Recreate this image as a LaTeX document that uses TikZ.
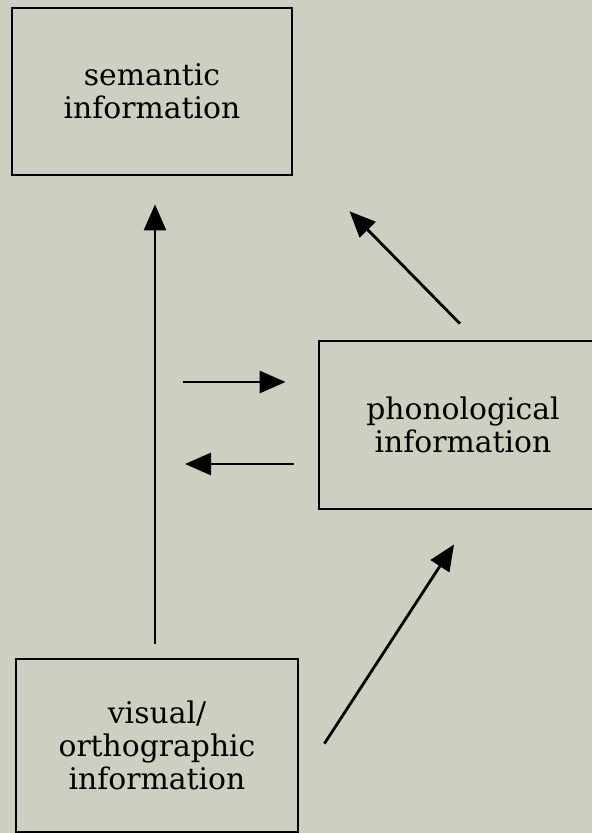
\documentclass[tikz,border=0pt]{standalone}
\usepackage{fontspec}
\setmainfont{DejaVu Serif}
\usetikzlibrary{arrows.meta}
\definecolor{paper}{RGB}{205,207,193}
\begin{document}
\begin{tikzpicture}[x=0.5pt, y=-0.5pt,
    box/.style={draw, line width=1.4pt, align=center, inner sep=0pt,
      font=\fontsize{14.9}{16.5}\selectfont},
    conn/.style={-{Triangle[length=13pt,width=11pt]}, line width=1.4pt}]
  \fill[paper] (0,0) rectangle (592,833);
  \useasboundingbox (0,0) rectangle (592,833);
  \begin{scope}
    \clip (0,0) rectangle (592,833);
    \node[box, minimum width=140pt, minimum height=83.5pt] (sem) at (152,91.5) {semantic\\information};
    \node[box, minimum width=144pt, minimum height=84pt] (pho) at (463,425) {phonological\\information};
    \node[box, minimum width=141pt, minimum height=86.5pt] (vis) at (157,745.5) {visual/\\orthographic\\information};
  \end{scope}
  \coordinate (outA) at (183,382);
  \coordinate (inB) at (185,464);

  \draw[conn, shorten <=7pt, shorten >=14pt] ([xshift=-1pt]vis.north) -- ([xshift=1.5pt]sem.south);
  \draw[conn, shorten <=11.2pt, shorten >=24.4pt] ([xshift=6.3pt]pho.north) -- ([xshift=10.95pt]sem.south east);
  \draw[conn, shorten >=16pt] (outA) -- ([yshift=21.5pt]pho.west);
  \draw[conn, shorten <=12pt] ([yshift=-19.5pt]pho.west) -- (inB);
  \draw[conn, shorten <=22.9pt, shorten >=20.3pt] ([yshift=-18.25pt]vis.east) -- ([xshift=6.6pt]pho.south);
\end{tikzpicture}
\end{document}
